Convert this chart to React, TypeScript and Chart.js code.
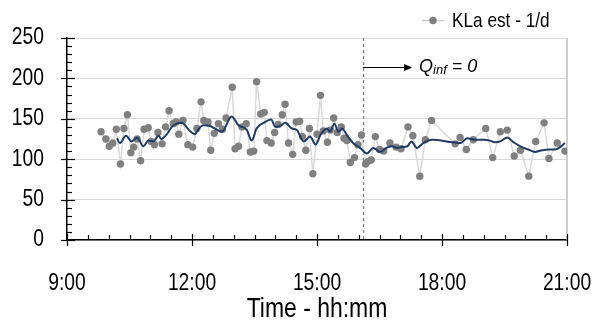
import { useEffect, useRef } from 'react';
import { Chart, registerables } from 'chart.js';

Chart.register(...registerables);

const FONT = '"Liberation Sans", Arial, sans-serif';
const SQUEEZE = 0.82; // narrow (condensed) text rendering

// Measured KLa estimates (time in minutes since midnight, value in 1/d)
const kLaTimes = [
  589, 596, 601, 606, 611, 617, 622, 627, 632, 636,
  641, 646, 651, 657, 661, 666, 671, 677, 682, 687,
  693, 697, 701, 707, 714, 721, 727, 733, 737, 743,
  747, 752, 758, 764, 769, 778, 782, 787, 792, 798,
  804, 809, 813, 819, 824, 828, 834, 839, 844, 850,
  854, 859, 865, 870, 875, 879, 884, 889, 894, 900,
  905, 909, 915, 919, 924, 929, 935, 939, 943, 948,
  954, 959, 964, 970, 973, 978, 984, 990, 996, 1005,
  1014, 1021, 1031, 1038, 1048, 1056, 1065, 1099, 1106, 1115,
  1125, 1143, 1153, 1164, 1174, 1184, 1193, 1205, 1215, 1227, 1234, 1246, 1257,
];
const kLaValues = [
  134, 125, 116, 120, 137, 94, 138, 155, 108, 115,
  125, 98, 137, 139, 122, 118, 133, 119, 140, 160,
  144, 146, 131, 148, 118, 115, 138, 171, 148, 146,
  111, 132, 144, 137, 151, 189, 113, 116, 140, 144,
  109, 110, 196, 156, 158, 123, 120, 133, 143, 155,
  168, 120, 106, 146, 147, 128, 111, 138, 82, 131,
  179, 135, 121, 136, 151, 133, 140, 126, 123, 96,
  102, 118, 130, 94, 97, 99, 128, 112, 110, 120,
  115, 113, 140, 129, 79, 124, 148, 119, 127, 112,
  124, 138, 102, 134, 136, 104, 111, 79, 122, 145, 101, 120, 110,
];

// Smoothed trend line
const smoothTimes = [
  612, 616, 625, 633, 641, 650, 657, 664, 672, 676,
  683, 691, 705, 717, 724, 730, 736, 746, 753, 763,
  777, 787, 799, 806, 813, 825, 834, 840, 849, 854,
  864, 871, 881, 890, 898, 905, 914, 919, 925, 931,
  936, 943, 952, 962, 972, 981, 991, 1000, 1008, 1015,
  1022, 1030, 1036, 1044, 1053, 1066, 1095, 1107, 1116, 1128,
  1140, 1149, 1156, 1164, 1174, 1183, 1195, 1204, 1214, 1224,
  1233, 1243, 1250, 1257,
];
const smoothValues = [
  126, 120, 129, 122, 127, 116, 123, 122, 129, 125,
  130, 140, 145, 135, 131, 138, 142, 141, 138, 134,
  153, 142, 136, 123, 138, 146, 149, 140, 142, 145,
  138, 136, 122, 128, 118, 130, 138, 134, 144, 134,
  138, 130, 120, 114, 107, 114, 109, 114, 116, 114,
  115, 116, 122, 114, 120, 124, 121, 120, 126, 124,
  124, 123, 121, 122, 127, 121, 115, 112, 109, 111,
  112, 112, 115, 120,
];

const xTickValues = [540, 720, 900, 1080, 1260];
const xTickLabels = ['9:00', '12:00', '15:00', '18:00', '21:00'];
const yTickValues = [0, 50, 100, 150, 200, 250];
const xMinorStep = 30;
const yMinorStep = 10;
const legendLabel = 'KLa est - 1/d';
const xTitle = 'Time - hh:mm';
const qinfTime = 966;
const arrowEndTime = 1037;
const arrowValue = 214;
const labelTime = 1047;
const labelValue = 208;

const decor = {
  id: 'decor',
  beforeDatasetsDraw(chart: any) {
    const { ctx, chartArea: a, scales } = chart;
    const x = scales.x;
    ctx.save();
    ctx.strokeStyle = '#bfbfbf';
    ctx.lineWidth = 1.5;
    ctx.beginPath();
    ctx.moveTo(a.right, a.top);
    ctx.lineTo(a.right, a.bottom);
    ctx.stroke();
    const qx = Math.round(x.getPixelForValue(qinfTime)) + 0.5;
    ctx.strokeStyle = '#7f7f7f';
    ctx.lineWidth = 1.2;
    ctx.setLineDash([3, 3]);
    ctx.beginPath();
    ctx.moveTo(qx, a.top);
    ctx.lineTo(qx, a.bottom);
    ctx.stroke();
    ctx.restore();
  },
  afterDraw(chart: any) {
    const { ctx, scales } = chart;
    const x = scales.x;
    const y = scales.y;
    ctx.save();
    ctx.strokeStyle = '#000';
    ctx.lineWidth = 1.2;
    const xb = y.getPixelForValue(0);
    for (let t = xTickValues[0]; t <= xTickValues[xTickValues.length - 1]; t += xMinorStep) {
      const px = Math.round(x.getPixelForValue(t)) + 0.5;
      const major = xTickValues.includes(t);
      ctx.beginPath();
      ctx.moveTo(px, major ? xb - 6 : xb - 5);
      ctx.lineTo(px, major ? xb + 6 : xb);
      ctx.stroke();
    }
    const yl = x.getPixelForValue(xTickValues[0]);
    for (let v = yTickValues[0]; v <= yTickValues[yTickValues.length - 1]; v += yMinorStep) {
      const py = Math.round(y.getPixelForValue(v)) + 0.5;
      const major = yTickValues.includes(v);
      ctx.beginPath();
      ctx.moveTo(major ? yl - 6 : yl, py);
      ctx.lineTo(major ? yl + 8 : yl + 5, py);
      ctx.stroke();
    }
    // Q_inf annotation arrow
    const qx = x.getPixelForValue(qinfTime);
    const ex = x.getPixelForValue(arrowEndTime);
    const ay = Math.round(y.getPixelForValue(arrowValue)) + 0.5;
    ctx.lineWidth = 1;
    ctx.beginPath();
    ctx.moveTo(qx, ay);
    ctx.lineTo(ex - 6, ay);
    ctx.stroke();
    ctx.fillStyle = '#000';
    ctx.beginPath();
    ctx.moveTo(ex, ay);
    ctx.lineTo(ex - 8, ay - 3.5);
    ctx.lineTo(ex - 8, ay + 3.5);
    ctx.closePath();
    ctx.fill();
    ctx.__noSqueeze = true;
    let tx = x.getPixelForValue(labelTime);
    const by = y.getPixelForValue(labelValue);
    ctx.textBaseline = 'alphabetic';
    ctx.textAlign = 'left';
    ctx.font = `italic 18px ${FONT}`;
    ctx.fillText('Q', tx, by);
    tx += ctx.measureText('Q').width;
    ctx.font = `italic 13px ${FONT}`;
    ctx.fillText('inf', tx, by + 2);
    tx += ctx.measureText('inf').width;
    ctx.font = `italic 18px ${FONT}`;
    ctx.fillText(' = 0', tx, by);
    ctx.__noSqueeze = false;

    // legend (top right)
    const lx = 422;
    const lyy = 20.5;
    ctx.strokeStyle = '#c9c9c9';
    ctx.lineWidth = 1.5;
    ctx.beginPath();
    ctx.moveTo(lx, lyy);
    ctx.lineTo(lx + 22, lyy);
    ctx.stroke();
    ctx.fillStyle = '#808080';
    ctx.beginPath();
    ctx.arc(lx + 11, lyy, 3.7, 0, Math.PI * 2);
    ctx.fill();
    ctx.fillStyle = '#000';
    ctx.font = `21px ${FONT}`;
    ctx.textBaseline = 'middle';
    ctx.fillText(legendLabel, lx + 30, lyy + 1);
    ctx.restore();
  },
};

export default function App() {
  const ref = useRef<HTMLCanvasElement>(null);
  useEffect(() => {
    const canvas = ref.current;
    if (!canvas) return;
    const c2d: any = canvas.getContext('2d');
    const origFill = c2d.fillText;
    c2d.fillText = function (text: string, px: number, py: number, maxWidth?: number) {
      if (this.__noSqueeze) {
        return maxWidth === undefined ? origFill.call(this, text, px, py) : origFill.call(this, text, px, py, maxWidth);
      }
      const w = this.measureText(text).width * SQUEEZE;
      const m = maxWidth === undefined ? w : Math.min(maxWidth, w);
      return origFill.call(this, text, px, py, m);
    };
    const chart = new Chart(canvas, {
      type: 'line',
      data: {
        datasets: [
          {
            label: legendLabel,
            data: kLaTimes.map((t, i) => ({ x: t, y: kLaValues[i] })),
            borderColor: '#dadada',
            borderWidth: 1.5,
            pointBackgroundColor: '#808080',
            pointBorderColor: '#808080',
            pointBorderWidth: 0,
            pointRadius: 3.7,
            tension: 0,
            order: 1,
          },
          {
            label: 'trend',
            data: smoothTimes.map((t, i) => ({ x: t, y: smoothValues[i] })),
            borderColor: '#1f3b63',
            borderWidth: 2,
            pointRadius: 0,
            tension: 0.4,
            cubicInterpolationMode: 'monotone',
            order: 0,
          },
        ],
      },
      options: {
        responsive: false,
        animation: false,
        layout: { padding: { left: 0, right: 0, top: 38, bottom: 0 } },
        plugins: {
          tooltip: { enabled: false },
          legend: { display: false },
        },
        scales: {
          x: {
            type: 'linear',
            min: xTickValues[0],
            max: xTickValues[xTickValues.length - 1],
            afterBuildTicks: (s: any) => {
              s.ticks = xTickValues.map((v) => ({ value: v }));
            },
            afterFit: (s: any) => {
              s.height = 87;
              s.paddingLeft = 0;
              s.paddingRight = 28;
            },
            ticks: {
              callback: (v: any) => xTickLabels[xTickValues.indexOf(Number(v))],
              font: { family: FONT, size: 23.5 },
              color: '#000',
              padding: 29,
              maxRotation: 0,
              autoSkip: false,
            },
            grid: { drawOnChartArea: false, drawTicks: false },
            border: { color: '#000', width: 1.5 },
            title: {
              display: true,
              text: xTitle,
              font: { family: FONT, size: 28 },
              color: '#000',
              padding: { top: 0, bottom: 1 },
            },
          },
          y: {
            min: yTickValues[0],
            max: yTickValues[yTickValues.length - 1],
            afterBuildTicks: (s: any) => {
              s.ticks = yTickValues.map((v) => ({ value: v }));
            },
            afterFit: (s: any) => {
              s.width = 67;
            },
            ticks: {
              font: { family: FONT, size: 23.5 },
              color: '#000',
              padding: 23,
            },
            grid: { color: '#d9d9d9', lineWidth: 1, drawTicks: false },
            border: { color: '#000', width: 1.5 },
          },
        },
      },
      plugins: [decor],
    } as any);
    return () => {
      chart.destroy();
      c2d.fillText = origFill;
    };
  }, []);
  return (
    <div style={{ position: 'fixed', left: 0, top: 0, width: 595, height: 327, background: '#fff' }}>
      <canvas ref={ref} width={595} height={327} style={{ display: 'block' }} />
    </div>
  );
}
